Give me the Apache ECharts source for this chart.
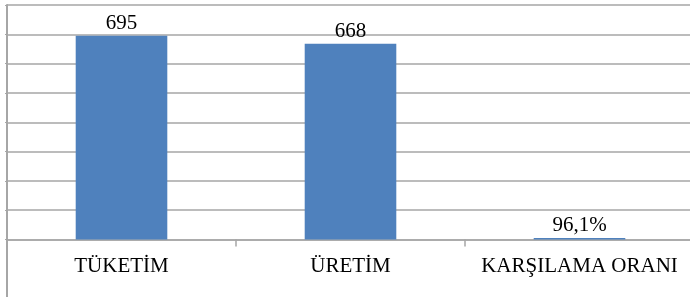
<!DOCTYPE html>
<html>
<head>
<meta charset="utf-8">
<script src="https://cdn.jsdelivr.net/npm/echarts@6/dist/echarts.min.js"></script>
<style>
  html, body { margin: 0; padding: 0; background: #fff; overflow: hidden; }
  /* plot area runs a few pixels past the right edge of the picture */
  #chart { width: 694px; height: 297px; }
</style>
</head>
<body>
<div id="chart"></div>
<script>
// values
const categories = ['TÜKETİM', 'ÜRETİM', 'KARŞILAMA ORANI'];
const values = [695, 668, 0.961];
const valueLabels = ['695', '668', '96,1%'];

const gridColor = '#a6a6a6';
const serif = "'Liberation Serif', 'Times New Roman', serif";

const chart = echarts.init(document.getElementById('chart'), null, { renderer: 'canvas' });

chart.setOption({
    animation: false,
    grid: { left: 7, top: 5, right: 0, bottom: 57.5, containLabel: false },
    xAxis: {
        type: 'category',
        data: categories,
        axisLine: { lineStyle: { color: gridColor, width: 1.5 } },
        axisTick: { show: true, length: 7, lineStyle: { color: gridColor, width: 1.5 } },
        axisLabel: { interval: 0, color: '#000', fontFamily: serif, fontSize: 21, margin: 16 }
    },
    yAxis: {
        type: 'value',
        min: 0,
        max: 800,
        interval: 100,
        axisLine: { show: true, lineStyle: { color: gridColor, width: 2 } },
        axisTick: { show: true, length: 2, lineStyle: { color: gridColor } },
        axisLabel: { show: false },
        splitLine: { lineStyle: { color: gridColor, width: 1.5 } }
    },
    graphic: [{
        // the left border runs on below the category axis
        type: 'line',
        shape: { x1: 7, y1: 239.5, x2: 7, y2: 297 },
        style: { stroke: gridColor, lineWidth: 2 }
    }],
    series: [{
        type: 'bar',
        data: values,
        barWidth: '40%',
        barMinHeight: 1.5,
        itemStyle: { color: '#4f81bd' },
        label: {
            show: true,
            position: 'top',
            distance: 2,
            color: '#000',
            fontFamily: serif,
            fontSize: 21,
            formatter: p => valueLabels[p.dataIndex]
        }
    }]
});
</script>
</body>
</html>
